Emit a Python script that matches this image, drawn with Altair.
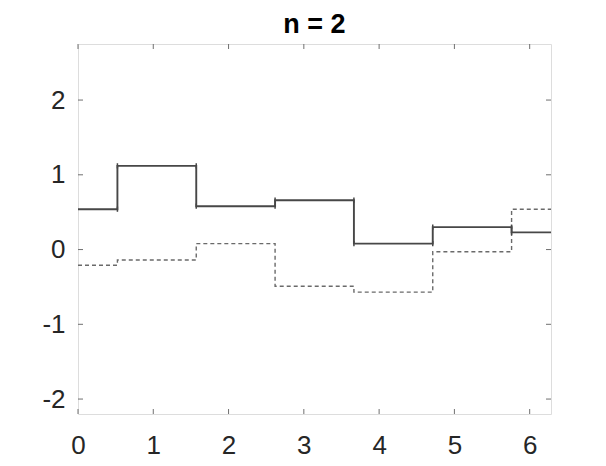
import altair as alt
import pandas as pd

# Step breakpoints (x) and piecewise-constant levels
breaks = [0.0, 0.5236, 1.5708, 2.6180, 3.6652, 4.7124, 5.7596, 6.2832]
solid_levels = [0.54, 1.12, 0.58, 0.66, 0.08, 0.30, 0.23]
dashed_levels = [-0.21, -0.14, 0.08, -0.49, -0.57, -0.03, 0.54]
overshoot = 0.035  # small Gibbs-like spikes at the jumps of the solid curve

x_ticks = [0, 1, 2, 3, 4, 5, 6]
y_ticks = [-2, -1, 0, 1, 2]
x_domain = [0, 6.2832]
y_domain = [-2.2, 2.75]

W, H = 473, 370
FONT = "Liberation Sans"

solid_df = pd.DataFrame({"x": breaks, "y": solid_levels + [solid_levels[-1]]})
dashed_df = pd.DataFrame({"x": breaks, "y": dashed_levels + [dashed_levels[-1]]})

serif_rows = []
for j in range(1, len(breaks) - 1):
    for lv in (solid_levels[j - 1], solid_levels[j]):
        serif_rows.append({"x": breaks[j], "y1": lv - overshoot, "y2": lv + overshoot})
serif_df = pd.DataFrame(serif_rows)

xs = alt.Scale(domain=x_domain, nice=False, zero=False)
ys = alt.Scale(domain=y_domain, nice=False, zero=False)

x_axis = alt.Axis(values=x_ticks, ticks=False, tickSize=0, domain=False, grid=False,
                  labelFontSize=26, labelFont=FONT, labelColor="#262626",
                  labelPadding=18, title=None, labelFlush=False,
                  labelExpr="'' + datum.value")
y_axis = alt.Axis(values=y_ticks, ticks=False, tickSize=0, domain=False, grid=False,
                  labelFontSize=26, labelFont=FONT, labelColor="#262626",
                  labelPadding=13, title=None, labelExpr="'' + datum.value")

dashed = alt.Chart(dashed_df).mark_line(
    interpolate="step-after", color="#6a6a6a", strokeWidth=1.4, strokeDash=[4, 3]
).encode(
    x=alt.X("x:Q", scale=xs, axis=x_axis),
    y=alt.Y("y:Q", scale=ys, axis=y_axis),
)

solid = alt.Chart(solid_df).mark_line(
    interpolate="step-after", color="#474747", strokeWidth=1.9
).encode(
    x=alt.X("x:Q", scale=xs),
    y=alt.Y("y:Q", scale=ys),
)

serifs = alt.Chart(serif_df).mark_rule(color="#474747", strokeWidth=1.5).encode(
    x=alt.X("x:Q", scale=xs),
    y=alt.Y("y1:Q", scale=ys),
    y2="y2:Q",
)

xt_df = pd.DataFrame({"t": x_ticks})
yt_df = pd.DataFrame({"t": y_ticks})
tick_color = "#707070"

xt_bottom = alt.Chart(xt_df).mark_rule(color=tick_color, strokeWidth=1).encode(
    x=alt.X("t:Q", scale=xs), y=alt.value(H), y2=alt.value(H - 5))
xt_top = alt.Chart(xt_df).mark_rule(color=tick_color, strokeWidth=1).encode(
    x=alt.X("t:Q", scale=xs), y=alt.value(0), y2=alt.value(5))
yt_left = alt.Chart(yt_df).mark_rule(color=tick_color, strokeWidth=1).encode(
    y=alt.Y("t:Q", scale=ys), x=alt.value(0), x2=alt.value(5))
yt_right = alt.Chart(yt_df).mark_rule(color=tick_color, strokeWidth=1).encode(
    y=alt.Y("t:Q", scale=ys), x=alt.value(W - 5), x2=alt.value(W))

chart = alt.layer(
    dashed, solid, serifs, xt_bottom, xt_top, yt_left, yt_right
).properties(
    width=W, height=H,
    title=alt.TitleParams("n = 2", fontSize=27, font=FONT, fontWeight="bold",
                          color="#000000", anchor="middle", offset=5),
    autosize=alt.AutoSizeParams(type="none"),
    padding={"left": 70, "top": 36, "right": 47, "bottom": 44},
).configure_view(
    stroke="#666666", strokeWidth=1
).configure(background="white")

chart.save("out.html", embed_options={"renderer": "svg", "actions": False})
